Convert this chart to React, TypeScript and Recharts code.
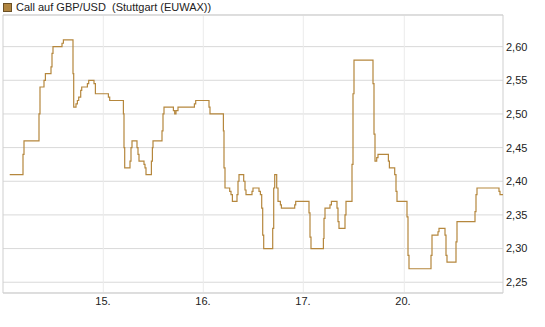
import { LineChart, Line, XAxis, YAxis, CartesianGrid, ReferenceArea } from 'recharts';

// time in trading days since the 14th (0 = start of 14., 4 = start of 20.)
const times = [
  0.067, 0.2, 0.21, 0.36, 0.37, 0.41, 0.424, 0.48, 0.49, 0.5, 0.59, 0.604, 0.7, 0.707, 0.73, 0.744,
  0.757, 0.777, 0.787, 0.844, 0.857, 0.91, 0.924,
  1.054, 1.067, 1.204, 1.21, 1.217, 1.27, 1.28, 1.29, 1.34, 1.35, 1.36, 1.41, 1.42, 1.43, 1.484,
  1.494, 1.5, 1.59, 1.6, 1.61, 1.704, 1.717, 1.73, 1.75, 1.914, 1.927,
  2.06, 2.07, 2.204, 2.21, 2.22, 2.267, 2.28, 2.294, 2.34, 2.35, 2.36, 2.407, 2.42, 2.43, 2.49,
  2.5, 2.56, 2.574, 2.587, 2.597, 2.607, 2.697, 2.707, 2.717, 2.737, 2.75, 2.774, 2.784, 2.917, 2.927,
  3.06, 3.07, 3.08, 3.204, 3.21, 3.22, 3.27, 3.284, 3.34, 3.35, 3.36, 3.42, 3.43, 3.49, 3.5, 3.51,
  3.7, 3.71, 3.72, 3.737, 3.75, 3.854, 3.864, 3.917, 3.93, 3.94,
  4.04, 4.05, 4.06, 4.28, 4.29, 4.35, 4.36, 4.42, 4.43, 4.44, 4.53, 4.54, 4.72, 4.73, 4.74, 4.96,
  4.97, 5.0,
];

const prices = [
  2.41, 2.44, 2.46, 2.5, 2.54, 2.55, 2.56, 2.57, 2.59, 2.6, 2.605, 2.61, 2.56, 2.51, 2.515, 2.52,
  2.525, 2.535, 2.54, 2.545, 2.55, 2.545, 2.53,
  2.525, 2.52, 2.5, 2.45, 2.42, 2.43, 2.45, 2.46, 2.45, 2.44, 2.43, 2.425, 2.42, 2.41, 2.43,
  2.45, 2.46, 2.475, 2.5, 2.51, 2.505, 2.5, 2.505, 2.51, 2.515, 2.52,
  2.51, 2.5, 2.475, 2.42, 2.39, 2.385, 2.38, 2.37, 2.38, 2.4, 2.41, 2.4, 2.387, 2.38, 2.385,
  2.39, 2.385, 2.38, 2.36, 2.32, 2.3, 2.33, 2.39, 2.41, 2.39, 2.37, 2.365, 2.36, 2.365, 2.37,
  2.353, 2.317, 2.3, 2.315, 2.345, 2.36, 2.365, 2.37, 2.36, 2.34, 2.33, 2.35, 2.37, 2.425, 2.53, 2.58,
  2.545, 2.47, 2.43, 2.435, 2.44, 2.43, 2.42, 2.41, 2.385, 2.37,
  2.347, 2.29, 2.27, 2.29, 2.32, 2.325, 2.33, 2.32, 2.29, 2.28, 2.31, 2.34, 2.355, 2.38, 2.39, 2.385,
  2.38, 2.38,
];

const dayTicks = [1, 2, 3, 4];
const dayLabels = ['15.', '16.', '17.', '20.'];
const priceTicks = [2.25, 2.3, 2.35, 2.4, 2.45, 2.5, 2.55, 2.6];

const data = times.map((t, i) => ({ t, price: prices[i] }));

const LINE = '#b5873d';
const FONT = 'Arial, "Liberation Sans", sans-serif';

export default function App() {
  return (
    <div style={{ position: 'relative', width: 545, height: 327, background: '#fff', fontFamily: FONT }}>
      <style>{'body{margin:0}'}</style>
      <div
        style={{
          position: 'absolute',
          left: 3,
          top: 0,
          height: 14,
          display: 'flex',
          alignItems: 'center',
          fontSize: 11,
          color: '#222',
          whiteSpace: 'pre',
        }}
      >
        <span
          style={{
            display: 'inline-block',
            width: 7,
            height: 7,
            background: '#b08540',
            border: '1px solid #6b5025',
            marginRight: 4,
          }}
        />
        <span>{'Call auf GBP/USD  (Stuttgart (EUWAX))'}</span>
      </div>
      <LineChart width={545} height={327} data={data} margin={{ top: 15, right: 2, left: 3, bottom: 4 }}>
        <CartesianGrid vertical={false} stroke="#d9d9d9" />
        <CartesianGrid horizontal={false} stroke="#ececec" verticalPoints={[103.3, 203.3, 303.3, 404.3]} />
        <ReferenceArea x1={0} x2={5} y1={2.234} y2={2.647} fill="none" stroke="#cfcfcf" ifOverflow="extendDomain" />
        <XAxis
          dataKey="t"
          type="number"
          domain={[0, 5]}
          ticks={dayTicks}
          tickFormatter={(v: number) => dayLabels[dayTicks.indexOf(v)] ?? ''}
          tickLine={false}
          axisLine={false}
          tickSize={0}
          tickMargin={4}
          height={30}
          tick={{ fontSize: 11, fill: '#222', fontFamily: FONT }}
        />
        <YAxis
          orientation="right"
          type="number"
          domain={[2.234, 2.647]}
          ticks={priceTicks}
          tickFormatter={(v: number) => v.toFixed(2).replace('.', ',')}
          tickLine={false}
          axisLine={false}
          tickSize={0}
          tickMargin={3}
          width={40}
          tick={{ fontSize: 11, fill: '#222', fontFamily: FONT, textAnchor: 'start' }}
        />
        <Line
          type="stepAfter"
          dataKey="price"
          stroke={LINE}
          strokeWidth={1.2}
          dot={false}
          isAnimationActive={false}
        />
      </LineChart>
    </div>
  );
}
